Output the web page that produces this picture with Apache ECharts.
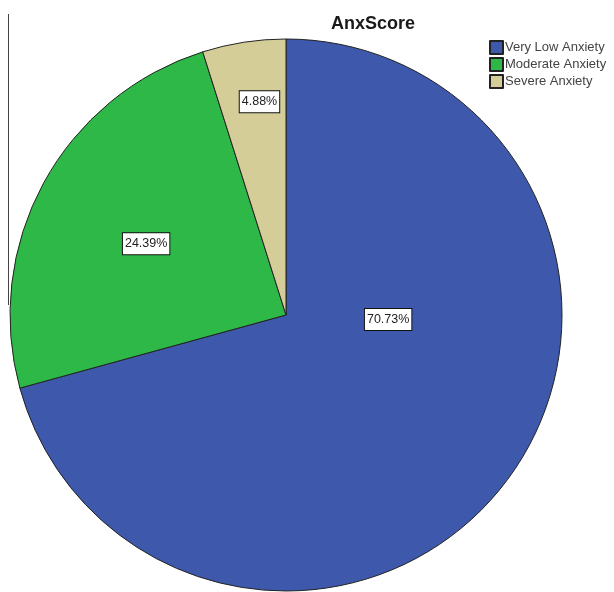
<!DOCTYPE html>
<html>
<head>
<meta charset="utf-8">
<script src="https://cdn.jsdelivr.net/npm/echarts@6/dist/echarts.min.js"></script>
<style>
html,body{margin:0;padding:0;background:#fff;}
#chart{width:614px;height:592px;}
</style>
</head>
<body>
<div id="chart"></div>
<script>
var categories = ['Very Low Anxiety', 'Moderate Anxiety', 'Severe Anxiety'];
var counts = [29, 10, 2];
var percentLabels = ['70.73%', '24.39%', '4.88%'];
var colors = ['#3E58AC', '#2EB848', '#D4CD98'];
var labelShift = [[-10, -81], [-16, -4], [-5, -74]];

var chart = echarts.init(document.getElementById('chart'));
var data = categories.map(function (c, i) {
  return { name: c, value: counts[i], itemStyle: { color: colors[i] } };
});
chart.setOption({
  animation: false,
  title: {
    text: 'AnxScore',
    left: 326,
    top: 10,
    textStyle: { fontFamily: 'Liberation Sans', fontSize: 18, fontWeight: 'bold', color: '#1a1a1a' }
  },
  legend: {
    orient: 'vertical',
    left: 489,
    top: 40,
    padding: 0,
    itemWidth: 13,
    itemHeight: 13,
    itemGap: 2,
    icon: 'rect',
    data: categories,
    textStyle: { fontFamily: 'Liberation Sans', fontSize: 13, color: '#444', padding: [0, 0, 0, -3] }
  },
  graphic: [{
    type: 'line',
    shape: { x1: 8.5, y1: 14, x2: 8.5, y2: 305 },
    style: { stroke: '#444', lineWidth: 1 }
  }],
  series: [{
    type: 'pie',
    center: [286, 315],
    radius: 276,
    startAngle: 90,
    clockwise: true,
    silent: true,
    itemStyle: { borderColor: '#222', borderWidth: 1 },
    label: {
      show: true,
      position: 'inside',
      formatter: function (p) { return percentLabels[p.dataIndex]; },
      fontFamily: 'Liberation Sans',
      fontSize: 12.5,
      color: '#222',
      backgroundColor: '#fff',
      borderColor: '#111',
      borderWidth: 1,
      padding: [4, 2, 4, 2]
    },
    labelLayout: function (p) {
      return { dx: labelShift[p.dataIndex][0], dy: labelShift[p.dataIndex][1] };
    },
    labelLine: { show: false },
    data: data
  }]
});
</script>
</body>
</html>
